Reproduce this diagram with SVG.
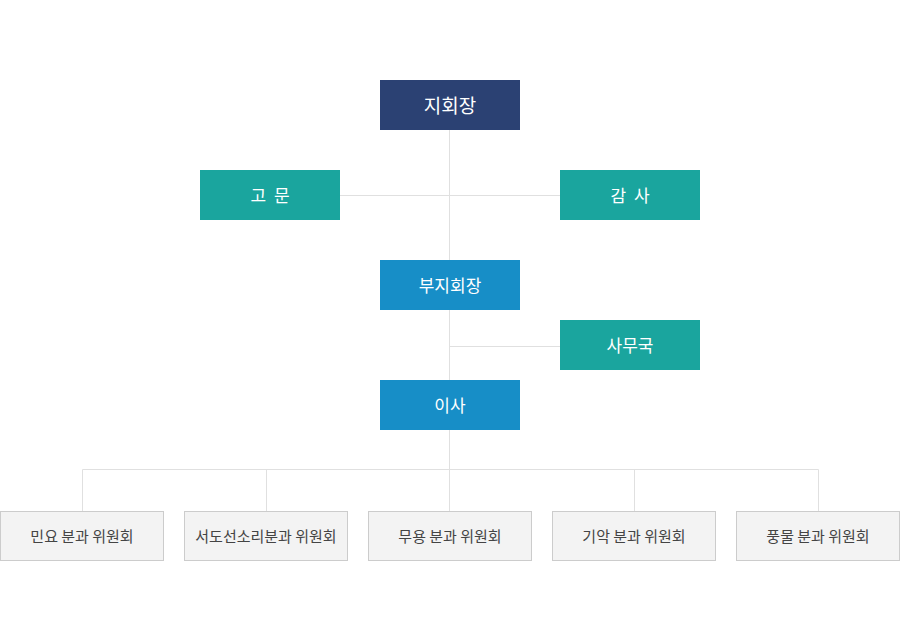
<svg xmlns="http://www.w3.org/2000/svg" width="900" height="640" viewBox="0 0 900 640">
<style>
.t{font-family:"Noto Sans CJK KR","Noto Sans",sans-serif;text-anchor:middle;dominant-baseline:central}
.w{fill:#fff;font-size:17px}
.g{fill:#444;font-size:15px}
.sp{letter-spacing:2px}
.navy{fill:#2b4173}
.teal{fill:#1aa59e}
.blue{fill:#178ec7}
.sub{fill:#f3f3f3;stroke:#cccccc;stroke-width:1}
.ln{stroke:#e0e0e0;stroke-width:1;fill:none}
</style>
<rect width="900" height="640" fill="#fff"/>
<g id="connectors">
<path class="ln" d="M449.5 130V511M340 195.5H560M450 346.5H560M82.5 511V469.5H818.5V511M266.5 469.5V511M634.5 469.5V511"/>
</g>
<g id="n-chair"><rect class="navy" x="380" y="80" width="140" height="50"/><text class="t w" x="450" y="104" style="font-size:19px">지회장</text></g>
<g id="n-advisor"><rect class="teal" x="200" y="170" width="140" height="50"/><text class="t w sp" x="271" y="194">고 문</text></g>
<g id="n-auditor"><rect class="teal" x="560" y="170" width="140" height="50"/><text class="t w sp" x="631" y="194">감 사</text></g>
<g id="n-vice"><rect class="blue" x="380" y="260" width="140" height="50"/><text class="t w" x="450" y="284">부지회장</text></g>
<g id="n-office"><rect class="teal" x="560" y="320" width="140" height="50"/><text class="t w" x="630" y="344">사무국</text></g>
<g id="n-board"><rect class="blue" x="380" y="380" width="140" height="50"/><text class="t w" x="450" y="404">이사</text></g>
<g id="n-c1"><rect class="sub" x="0.5" y="511.5" width="163" height="49"/><text class="t g" x="82" y="535">민요 분과 위원회</text></g>
<g id="n-c2"><rect class="sub" x="184.5" y="511.5" width="163" height="49"/><text class="t g" x="266" y="535">서도선소리분과 위원회</text></g>
<g id="n-c3"><rect class="sub" x="368.5" y="511.5" width="163" height="49"/><text class="t g" x="450" y="535">무용 분과 위원회</text></g>
<g id="n-c4"><rect class="sub" x="552.5" y="511.5" width="163" height="49"/><text class="t g" x="634" y="535">기악 분과 위원회</text></g>
<g id="n-c5"><rect class="sub" x="736.5" y="511.5" width="163" height="49"/><text class="t g" x="818" y="535">풍물 분과 위원회</text></g>
</svg>
